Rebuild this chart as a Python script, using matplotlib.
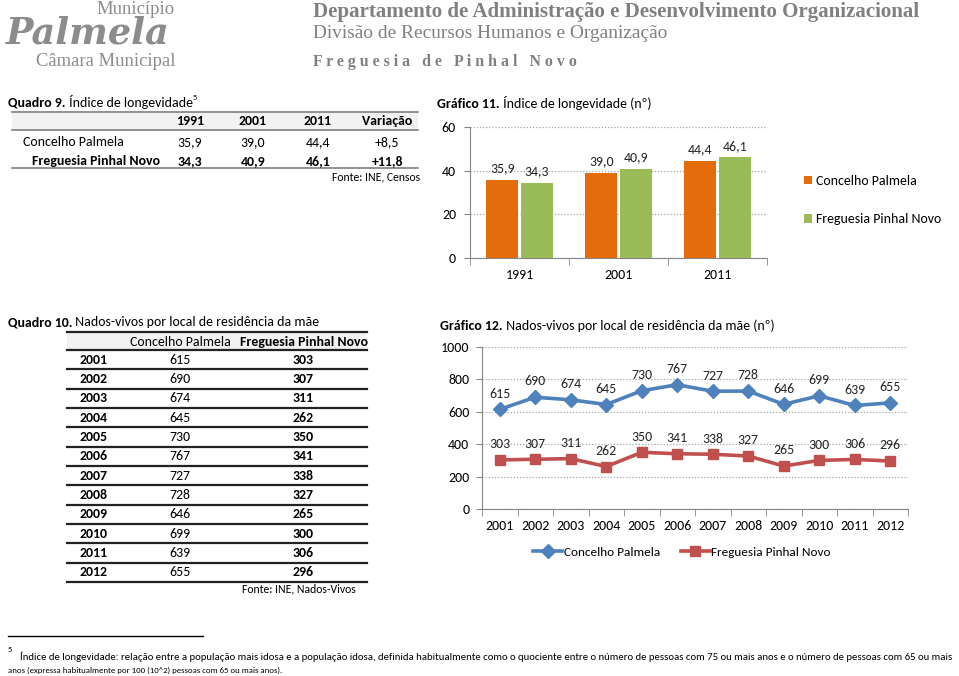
import matplotlib.pyplot as plt
from matplotlib import font_manager
from matplotlib.patches import Rectangle

W, H = 959, 676

# Quadro 9 / Gráfico 11
census_years = ["1991", "2001", "2011"]
longevity_palmela = [35.9, 39.0, 44.4]
longevity_pinhal = [34.3, 40.9, 46.1]
variation_palmela = "+8,5"
variation_pinhal = "+11,8"

# Quadro 10 / Gráfico 12
birth_years = ["2001", "2002", "2003", "2004", "2005", "2006",
               "2007", "2008", "2009", "2010", "2011", "2012"]
births_palmela = [615, 690, 674, 645, 730, 767, 727, 728, 646, 699, 639, 655]
births_pinhal = [303, 307, 311, 262, 350, 341, 338, 327, 265, 300, 306, 296]

ORANGE = "#E46C0A"
GREEN = "#9BBB59"
BLUE = "#4F81BD"
RED = "#C0504D"
AXIS_GREY = "#868686"
HEAD_GREY = "#8C8C8C"

installed = {f.name for f in font_manager.fontManager.ttflist}


def first_of(*names):
    for n in names:
        if n in installed:
            return n
    return "DejaVu Sans"


MAIN = first_of("Carlito", "Lato")
NARROW = first_of("Carlito", "Liberation Sans Narrow", "Roboto Condensed", "Lato")
SANS = [MAIN, "DejaVu Sans"]
SERIF = ["Liberation Serif", "DejaVu Serif"]
FS = 10.0 if MAIN == "Carlito" else 9.0   # body text size

plt.rcParams["font.family"] = SANS

fig = plt.figure(figsize=(W / 100, H / 100), dpi=100)
page = fig.add_axes([0, 0, 1, 1], zorder=0)
page.set_xlim(0, W)
page.set_ylim(H, 0)
page.axis("off")
renderer = fig.canvas.get_renderer()


def put(x, y, s, size=FS, weight="normal", ha="left", va="center",
        color="black", family=SANS, width=None, style="normal"):
    t = page.text(x, y, s, fontsize=size, fontweight=weight, ha=ha, va=va,
                  color=color, family=family, style=style)
    if width:
        for _ in range(3):
            bb = t.get_window_extent(renderer)
            t.set_fontsize(t.get_fontsize() * width / bb.width)
    return t


def after(prev, s, size=FS, weight="normal", color="black", dy=0):
    # text that continues right after another text, same baseline
    return page.annotate(s, xy=(1, 0), xycoords=prev, xytext=(0, dy),
                         textcoords="offset points", va="bottom",
                         fontsize=size, fontweight=weight, color=color)


def box(rect):
    return [rect[0] / W, 1 - (rect[1] + rect[3]) / H, rect[2] / W, rect[3] / H]


# ---- header
put(175, 9, "Município", 12, ha="right", family=SERIF, color=HEAD_GREY, width=78)
put(6, 34, "Palmela", 21, weight="bold", style="italic",
    family=["DejaVu Serif"], color=HEAD_GREY, width=164)
put(175, 62, "Câmara Municipal", 12, ha="right", family=SERIF, color=HEAD_GREY, width=140)
put(313, 12, "Departamento de Administração e Desenvolvimento Organizacional", 14,
    weight="bold", family=SERIF, color="#808080", width=607)
put(313, 33, "Divisão de Recursos Humanos e Organização", 11,
    family=SERIF, color="#808080", width=352)
put(313, 62, "F r e g u e s i a   d e   P i n h a l   N o v o", 11,
    weight="bold", family=SERIF, color="#808080", width=264)

# ---- Quadro 9
t = put(8, 107, "Quadro 9.", weight="bold", va="baseline")
t = after(t, " Índice de longevidade")
after(t, "5", FS * 0.6, dy=6)

page.add_patch(Rectangle((12, 112), 406, 18, color="#F2F2F2", lw=0))
for y in (112, 130, 168):
    page.plot([12, 418], [y, y], color="#7F7F7F", lw=1.2)
col_x = [190, 253, 318, 387]
for x, s in zip(col_x, census_years + ["Variação"]):
    put(x, 121, s, weight="bold", ha="center")
put(23, 142, "Concelho Palmela")
put(32, 161, "Freguesia Pinhal Novo", weight="bold")
for x, v in zip(col_x, longevity_palmela):
    put(x, 142, f"{v:.1f}".replace(".", ","), ha="center")
for x, v in zip(col_x, longevity_pinhal):
    put(x, 161, f"{v:.1f}".replace(".", ","), weight="bold", ha="center")
put(col_x[3], 142, variation_palmela, ha="center")
put(col_x[3], 161, variation_pinhal, weight="bold", ha="center")
put(420, 177, "Fonte: INE, Censos", FS * 0.85, ha="right")

# ---- Quadro 10
t = put(8, 326, "Quadro 10.", weight="bold", va="baseline")
after(t, " Nados-vivos por local de residência da mãe")

row_h = (582 - 350) / len(birth_years)
page.add_patch(Rectangle((67, 332), 300, 18, color="#F2F2F2", lw=0))
page.plot([67, 367], [332, 332], color="#222222", lw=1.6)
put(180, 342, "Concelho Palmela", ha="center")
put(304, 342, "Freguesia Pinhal Novo", weight="bold", ha="center")
for i, (yr, a, b) in enumerate(zip(birth_years, births_palmela, births_pinhal)):
    top = 350 + i * row_h
    page.plot([67, 367], [top, top], color="#222222", lw=1.6)
    yc = top + row_h / 2
    put(94, yc, yr, weight="bold", ha="center")
    put(180, yc, str(a), ha="center")
    put(303, yc, str(b), weight="bold", ha="center")
page.plot([67, 367], [582, 582], color="#222222", lw=1.6)
put(299, 589, "Fonte: INE, Nados-Vivos", FS * 0.85, ha="center")

# ---- Gráfico 11
t = put(437, 108, "Gráfico 11.", weight="bold", va="baseline")
after(t, " Índice de longevidade (nº)")

ax1 = fig.add_axes(box((470, 127, 297, 131)), zorder=2)
x = list(range(len(census_years)))
bw = 0.32
bars_a = ax1.bar([i - bw / 2 - 0.015 for i in x], longevity_palmela, bw,
                 color=ORANGE, label="Concelho Palmela", zorder=3)
bars_b = ax1.bar([i + bw / 2 + 0.015 for i in x], longevity_pinhal, bw,
                 color=GREEN, label="Freguesia Pinhal Novo", zorder=3)
for bars in (bars_a, bars_b):
    for r in bars:
        v = r.get_height()
        ax1.annotate(f"{v:.1f}".replace(".", ","),
                     (r.get_x() + r.get_width() / 2, v), xytext=(0, 4),
                     textcoords="offset points", ha="center", va="bottom",
                     fontsize=FS, color="#262626")
ax1.set_xlim(-0.5, 2.5)
ax1.set_ylim(0, 60)
ax1.set_yticks([0, 20, 40, 60])
ax1.set_xticks(x)
ax1.set_xticklabels(census_years)
ax1.set_xticks([-0.5, 0.5, 1.5, 2.5], minor=True)
ax1.tick_params(axis="x", which="major", length=0, pad=8, labelsize=FS)
ax1.tick_params(axis="x", which="minor", length=5, color=AXIS_GREY)
ax1.tick_params(axis="y", length=4, color=AXIS_GREY, pad=6, labelsize=FS)
ax1.yaxis.grid(True, linestyle=(0, (1, 1.5)), color="#A6A6A6", lw=0.9)
ax1.set_axisbelow(True)
for side in ("top", "right"):
    ax1.spines[side].set_visible(False)
for side in ("left", "bottom"):
    ax1.spines[side].set_color(AXIS_GREY)
ax1.legend(loc="center left", bbox_to_anchor=(797 / W, 1 - 200 / H),
           bbox_transform=fig.transFigure, frameon=False, fontsize=FS,
           handlelength=0.6, handleheight=0.6, handletextpad=0.3,
           labelspacing=1.9, borderpad=0)

# ---- Gráfico 12
t = put(440, 330, "Gráfico 12.", weight="bold", va="baseline")
after(t, " Nados-vivos por local de residência da mãe (nº)")

ax2 = fig.add_axes(box((482, 347, 426, 162)), zorder=2)
xs = list(range(len(birth_years)))
ax2.plot(xs, births_palmela, color=BLUE, lw=2.6, marker="D", markersize=7,
         label="Concelho Palmela", zorder=3)
ax2.plot(xs, births_pinhal, color=RED, lw=2.6, marker="s", markersize=6.5,
         label="Freguesia Pinhal Novo", zorder=3)
for series in (births_palmela, births_pinhal):
    for i, v in zip(xs, series):
        ax2.annotate(str(v), (i, v), xytext=(0, 7), textcoords="offset points",
                     ha="center", va="bottom", fontsize=FS, color="#262626")
ax2.set_xlim(-0.5, len(xs) - 0.5)
ax2.set_ylim(0, 1000)
ax2.set_yticks(range(0, 1001, 200))
ax2.set_xticks(xs)
ax2.set_xticklabels(birth_years)
ax2.set_xticks([i - 0.5 for i in range(len(xs) + 1)], minor=True)
ax2.tick_params(axis="x", which="major", length=0, pad=8, labelsize=FS)
ax2.tick_params(axis="x", which="minor", length=5, color=AXIS_GREY)
ax2.tick_params(axis="y", length=4, color=AXIS_GREY, pad=5, labelsize=FS)
ax2.yaxis.grid(True, linestyle=(0, (1, 1.5)), color="#A6A6A6", lw=0.9)
ax2.set_axisbelow(True)
for side in ("top", "right"):
    ax2.spines[side].set_visible(False)
for side in ("left", "bottom"):
    ax2.spines[side].set_color(AXIS_GREY)
ax2.legend(loc="center", bbox_to_anchor=(682 / W, 1 - 552 / H),
           bbox_transform=fig.transFigure, frameon=False, fontsize=FS * 0.95, ncol=2,
           handlelength=2.2, handletextpad=0.1, columnspacing=1.6, borderpad=0)

# ---- footnote
page.plot([8, 203], [636, 636], color="black", lw=1)
put(8, 650, "5", FS * 0.6)
put(20, 657, "Índice de longevidade: relação entre a população mais idosa e a população "
    "idosa, definida habitualmente como o quociente entre o número de pessoas com 75 "
    "ou mais anos e o número de pessoas com 65 ou mais", 8, family=[NARROW, "DejaVu Sans"],
    width=930)
put(8, 670, "anos (expressa habitualmente por 100 (10^2) pessoas com 65 ou mais anos).", 8,
    family=[NARROW, "DejaVu Sans"], width=272)

fig.savefig("out.png", dpi=100)
